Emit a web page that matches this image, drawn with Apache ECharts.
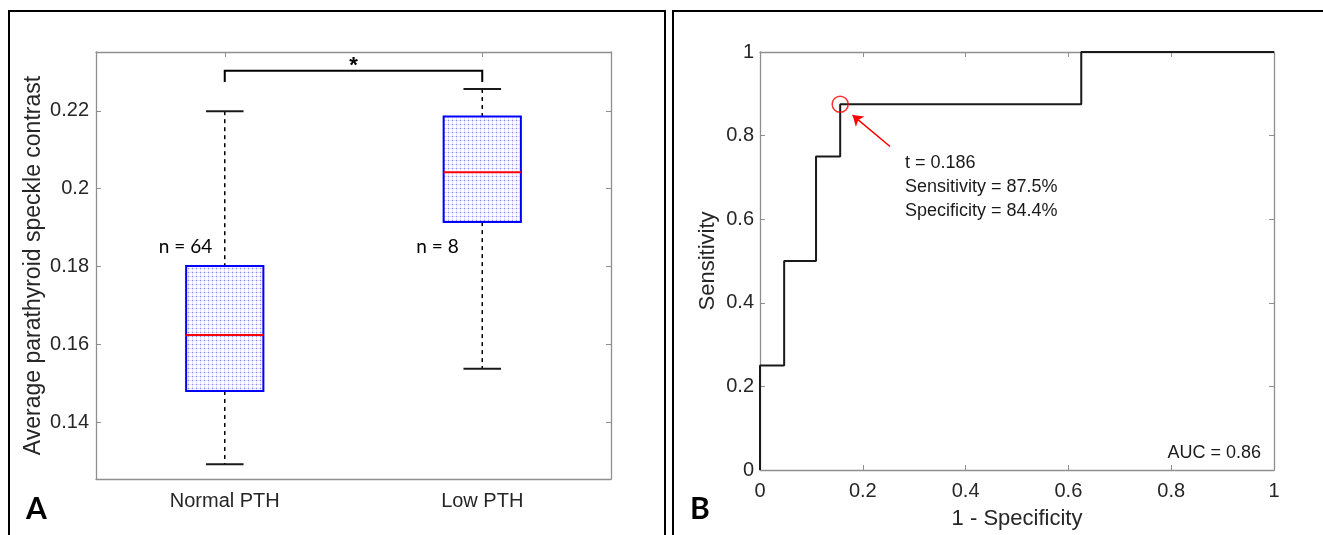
<!DOCTYPE html>
<html>
<head>
<meta charset="utf-8">
<script src="https://cdn.jsdelivr.net/npm/echarts@6/dist/echarts.min.js"></script>
<style>
  html, body { margin: 0; padding: 0; background: #fff; }
  #chart { width: 1323px; height: 535px; }
</style>
</head>
<body>
<div id="chart"></div>
<script>
// panel A: box plot summary per group
const groups = ['Normal PTH', 'Low PTH'];
const counts = [64, 8];
const whiskerLow = [0.1292, 0.1537];
const q1 = [0.148, 0.1914];
const median = [0.1624, 0.2042];
const q3 = [0.1801, 0.2185];
const whiskerHigh = [0.2199, 0.2256];
const yTicksA = [0.14, 0.16, 0.18, 0.2, 0.22];

// significance bracket
const bracketTop = 0.2303;
const bracketFoot = 0.2274;
const countLabelY = 0.1851;

// panel B: ROC curve
const fpr = [0, 0, 0.047, 0.047, 0.109, 0.109, 0.156, 0.156, 0.625, 0.625, 1];
const tpr = [0, 0.25, 0.25, 0.5, 0.5, 0.75, 0.75, 0.875, 0.875, 1, 1];
const optimal = [0.156, 0.875];
const arrowFrom = [0.253, 0.774];
const arrowTo = [0.18, 0.849];

const FONT = '"Liberation Sans", Arial, Helvetica, sans-serif';
const TXT = '#262626';
const AXC = '#8f8f8f';

// dotted blue hatch like matlab's box fill
const pat = document.createElement('canvas');
pat.width = 4; pat.height = 4;
const pc = pat.getContext('2d');
pc.fillStyle = '#ffffff'; pc.fillRect(0, 0, 4, 4);
pc.fillStyle = 'rgba(60,60,255,0.16)';
pc.fillRect(0, 0, 4, 1); pc.fillRect(0, 0, 1, 4);
pc.fillStyle = 'rgba(60,60,255,0.45)';
pc.fillRect(0, 0, 1, 1);

const chart = echarts.init(document.getElementById('chart'));

const renderBox = (params, api) => {
  const i = params.dataIndex;
  const band = api.size([1, 0])[0];
  const bw = band * 0.3;
  const cw = band * 0.146;
  const x = api.coord([i, median[i]])[0];
  const yLo = api.coord([i, whiskerLow[i]])[1];
  const yQ1 = api.coord([i, q1[i]])[1];
  const yMed = api.coord([i, median[i]])[1];
  const yQ3 = api.coord([i, q3[i]])[1];
  const yHi = api.coord([i, whiskerHigh[i]])[1];
  const yN = api.coord([i, countLabelY])[1];
  const dash = { stroke: '#000', lineWidth: 1.5, lineDash: [4, 4] };
  const solid = { stroke: '#1a1a1a', lineWidth: 2 };
  return {
    type: 'group',
    children: [
      { type: 'line', shape: { x1: x, y1: yHi, x2: x, y2: yQ3 }, style: dash },
      { type: 'line', shape: { x1: x, y1: yQ1, x2: x, y2: yLo }, style: dash },
      { type: 'line', shape: { x1: x - cw / 2, y1: yHi, x2: x + cw / 2, y2: yHi }, style: solid },
      { type: 'line', shape: { x1: x - cw / 2, y1: yLo, x2: x + cw / 2, y2: yLo }, style: solid },
      {
        type: 'rect',
        shape: { x: x - bw / 2, y: yQ3, width: bw, height: yQ1 - yQ3 },
        style: { fill: { image: pat, repeat: 'repeat' }, stroke: '#0000ff', lineWidth: 2 },
      },
      { type: 'line', shape: { x1: x - bw / 2, y1: yMed, x2: x + bw / 2, y2: yMed }, style: { stroke: '#ff0000', lineWidth: 2 } },
      {
        type: 'text',
        x: x - band * 0.256,
        y: yN,
        style: { text: 'n = ' + counts[i], font: '19px Lato, "Open Sans", sans-serif', fill: '#000', align: 'left', verticalAlign: 'middle' },
      },
    ],
  };
};

const renderBracket = (params, api) => {
  const a = api.coord([0, bracketFoot]);
  const b = api.coord([1, bracketFoot]);
  const top = api.coord([0, bracketTop])[1];
  return {
    type: 'group',
    children: [
      {
        type: 'polyline',
        shape: { points: [[a[0], a[1]], [a[0], top], [b[0], top], [b[0], b[1]]] },
        style: { stroke: '#000', lineWidth: 2, fill: null },
      },
      {
        type: 'text',
        x: (a[0] + b[0]) / 2,
        y: top + 6,
        style: { text: '*', font: 'bold 22px ' + FONT, fill: '#000', align: 'center', verticalAlign: 'bottom' },
      },
    ],
  };
};

const hiddenSide = (extra) => Object.assign({
  axisLine: { show: true, onZero: false, lineStyle: { color: AXC, width: 1.3 } },
  axisTick: { show: true, inside: true, length: 5, lineStyle: { color: AXC } },
  axisLabel: { show: false },
  splitLine: { show: false },
}, extra);

chart.setOption({
  animation: false,
  backgroundColor: '#fff',
  grid: [
    { left: 96, top: 52, width: 515, height: 427 },
    { left: 760, top: 52, width: 514, height: 421 },
  ],
  xAxis: [
    {
      gridIndex: 0,
      type: 'category',
      data: groups,
      axisLine: { onZero: false, lineStyle: { color: AXC, width: 1.3 } },
      axisTick: { inside: true, alignWithLabel: true, length: 5, lineStyle: { color: AXC } },
      axisLabel: { color: TXT, fontSize: 20, fontFamily: FONT, margin: 12 },
      splitLine: { show: false },
    },
    hiddenSide({ gridIndex: 0, type: 'category', data: groups, position: 'top',
      axisTick: { show: true, inside: true, alignWithLabel: true, length: 5, lineStyle: { color: AXC } } }),
    {
      gridIndex: 1,
      type: 'value',
      min: 0, max: 1, interval: 0.2,
      name: '1 - Specificity',
      nameLocation: 'middle',
      nameGap: 38,
      nameTextStyle: { color: TXT, fontSize: 22, fontFamily: FONT },
      axisLine: { onZero: false, lineStyle: { color: AXC, width: 1.3 } },
      axisTick: { inside: true, length: 5, lineStyle: { color: AXC } },
      axisLabel: { color: TXT, fontSize: 20, fontFamily: FONT, margin: 11 },
      splitLine: { show: false },
    },
    hiddenSide({ gridIndex: 1, type: 'value', min: 0, max: 1, interval: 0.2, position: 'top' }),
  ],
  yAxis: [
    {
      gridIndex: 0,
      type: 'value',
      min: 0.1254, max: 0.2351,
      name: 'Average parathyroid speckle contrast',
      nameLocation: 'middle',
      nameGap: 51,
      nameTextStyle: { color: TXT, fontSize: 23, fontFamily: FONT },
      axisLine: { show: true, onZero: false, lineStyle: { color: AXC, width: 1.3 } },
      axisTick: { show: true, inside: true, length: 5, customValues: yTicksA, lineStyle: { color: AXC } },
      axisLabel: { color: TXT, fontSize: 20, fontFamily: FONT, margin: 7, customValues: yTicksA, formatter: (v) => String(v) },
      splitLine: { show: false },
    },
    hiddenSide({ gridIndex: 0, type: 'value', min: 0.1254, max: 0.2351, position: 'right',
      axisTick: { show: true, inside: true, length: 5, customValues: yTicksA, lineStyle: { color: AXC } } }),
    {
      gridIndex: 1,
      type: 'value',
      min: 0, max: 1, interval: 0.2,
      name: 'Sensitivity',
      nameLocation: 'middle',
      nameGap: 41,
      nameTextStyle: { color: TXT, fontSize: 22, fontFamily: FONT },
      axisLine: { show: true, onZero: false, lineStyle: { color: AXC, width: 1.3 } },
      axisTick: { show: true, inside: true, length: 5, lineStyle: { color: AXC } },
      axisLabel: { color: TXT, fontSize: 20, fontFamily: FONT, margin: 6 },
      splitLine: { show: false },
    },
    hiddenSide({ gridIndex: 1, type: 'value', min: 0, max: 1, interval: 0.2, position: 'right' }),
  ],
  series: [
    {
      type: 'custom',
      xAxisIndex: 0, yAxisIndex: 0,
      renderItem: renderBox,
      data: groups.map((g, i) => [i, whiskerLow[i], q1[i], median[i], q3[i], whiskerHigh[i]]),
      silent: true,
    },
    {
      type: 'custom',
      xAxisIndex: 0, yAxisIndex: 0,
      renderItem: renderBracket,
      data: [[0, bracketTop]],
      silent: true,
    },
    {
      type: 'line',
      xAxisIndex: 2, yAxisIndex: 2,
      data: fpr.map((v, i) => [v, tpr[i]]),
      showSymbol: false,
      lineStyle: { color: '#1a1a1a', width: 2 },
      silent: true,
      z: 3,
    },
    {
      type: 'scatter',
      xAxisIndex: 2, yAxisIndex: 2,
      data: [optimal],
      symbol: 'circle',
      symbolSize: 16,
      itemStyle: { color: 'rgba(0,0,0,0)', borderColor: '#ff0000', borderWidth: 1.5 },
      silent: true,
      z: 4,
      markLine: {
        silent: true,
        symbol: ['none', 'arrow'],
        symbolSize: 10,
        label: { show: false },
        lineStyle: { color: '#ff0000', width: 1.5, type: 'solid' },
        data: [[{ coord: arrowFrom }, { coord: arrowTo }]],
      },
    },
  ],
  graphic: [
    { type: 'rect', shape: { x: 9, y: 11, width: 656, height: 540 }, style: { fill: null, stroke: '#000', lineWidth: 2 } },
    { type: 'rect', shape: { x: 673, y: 11, width: 670, height: 540 }, style: { fill: null, stroke: '#000', lineWidth: 2 } },
    { type: 'text', left: 26, top: 494, style: { text: 'A', font: 'bold 30px Lato, "Open Sans", sans-serif', fill: '#000' } },
    { type: 'text', left: 690, top: 494, style: { text: 'B', font: 'bold 30px Lato, "Open Sans", sans-serif', fill: '#000' } },
    { type: 'text', x: 905, y: 163, style: { text: 't = 0.186', font: '18px ' + FONT, fill: '#1a1a1a', verticalAlign: 'middle' } },
    { type: 'text', x: 905, y: 187, style: { text: 'Sensitivity = 87.5%', font: '18px ' + FONT, fill: '#1a1a1a', verticalAlign: 'middle' } },
    { type: 'text', x: 905, y: 211, style: { text: 'Specificity = 84.4%', font: '18px ' + FONT, fill: '#1a1a1a', verticalAlign: 'middle' } },
    { type: 'text', x: 1261, y: 453, style: { text: 'AUC = 0.86', font: '18px ' + FONT, fill: '#1a1a1a', align: 'right', verticalAlign: 'middle' } },
  ],
});
</script>
</body>
</html>
